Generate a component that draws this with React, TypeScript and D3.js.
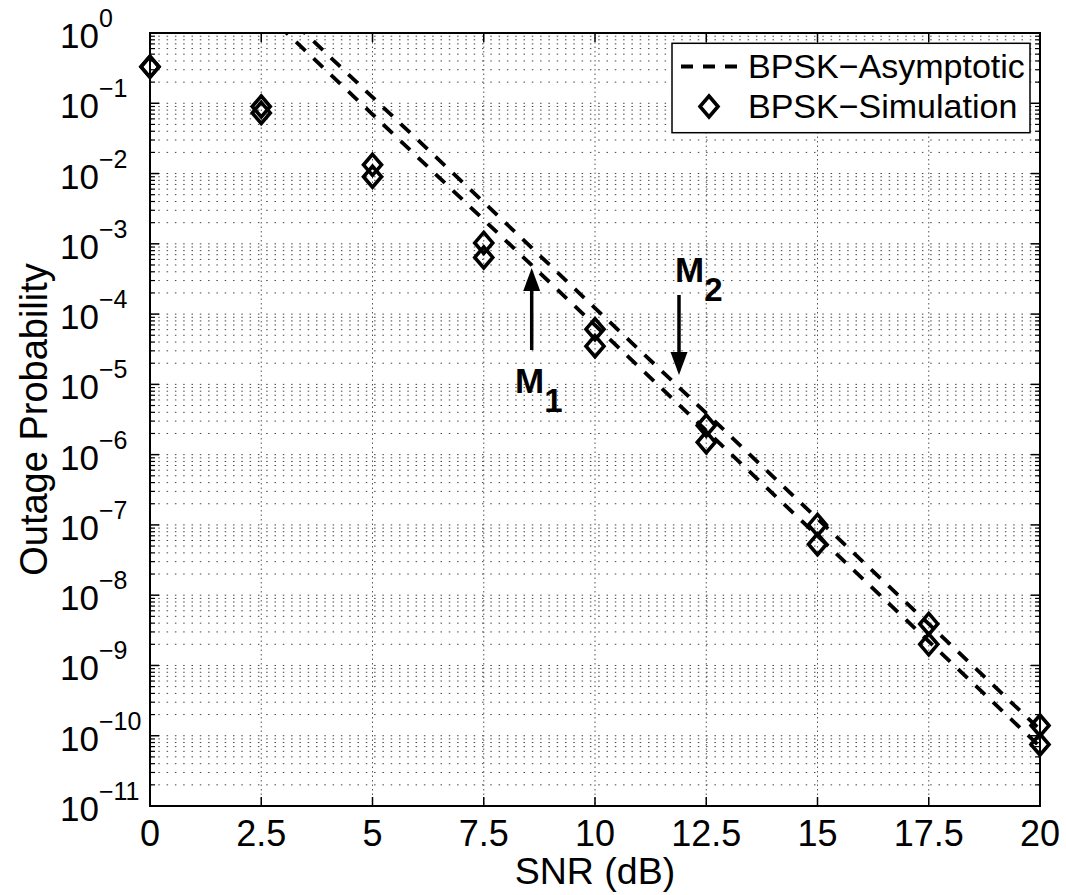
import React from "react";
import * as d3 from "d3";

const snrTicks = [0, 2.5, 5, 7.5, 10, 12.5, 15, 17.5, 20];
const tickLabels = ["0", "2.5", "5", "7.5", "10", "12.5", "15", "17.5", "20"];
const yExponents = [0, -1, -2, -3, -4, -5, -6, -7, -8, -9, -10, -11];

// Asymptotic curves at SNR points
const asymSnr = [2.5, 5, 7.5, 10, 12.5, 15, 17.5, 20];
const asymUpper = [3.87, 0.122, 3.9e-3, 1.22e-4, 3.9e-6, 1.22e-7, 3.9e-9, 1.22e-10];
const asymLower = [2.2, 0.0695, 2.2e-3, 6.95e-5, 2.2e-6, 7.0e-8, 2.2e-9, 7.0e-11];

// Simulation points
const simSnr = [0, 2.5, 5, 7.5, 10, 12.5, 15, 17.5, 20];
const simUpper = [0.33, 0.09, 0.0133, 1.03e-3, 6.1e-5, 2.6e-6, 1.0e-7, 3.9e-9, 1.4e-10];
const simLower = [0.33, 0.073, 0.009, 6.4e-4, 3.5e-5, 1.5e-6, 5.3e-8, 2.0e-9, 7.5e-11];

const legendLabels = ["BPSK\u2212Asymptotic", "BPSK\u2212Simulation"];

const W = 1066, H = 895;
const L = 150, R = 1040, T = 33, B = 806;
const FONT = "'Liberation Sans', Arial, Helvetica, sans-serif";

export default function App() {
  const x = d3.scaleLinear().domain([0, 20]).range([L, R]);
  const y = d3.scaleLog().domain([1e-11, 1]).range([B, T]);

  const minorY: number[] = [];
  for (let e = -11; e < 0; e++) {
    for (let m = 2; m <= 9; m++) minorY.push(m * Math.pow(10, e));
  }

  const line = d3
    .line<number>()
    .x((_, i) => x(asymSnr[i]))
    .y((d) => y(d));

  const diamond = (cx: number, cy: number, key: string) => (
    <path
      key={key}
      d={`M${cx},${cy - 10.5}L${cx + 9},${cy}L${cx},${cy + 10.5}L${cx - 9},${cy}Z`}
      fill="none"
      stroke="#000"
      strokeWidth={3.6}
      strokeLinejoin="miter"
    />
  );

  const arrow = (xv: number, y0: number, y1: number, key: string) => {
    const dir = y1 < y0 ? -1 : 1;
    const headLen = 23;
    const headHalf = 8.5;
    const baseY = y1 - dir * headLen;
    return (
      <g key={key}>
        <line x1={xv} y1={y0} x2={xv} y2={baseY} stroke="#000" strokeWidth={3.5} />
        <path d={`M${xv},${y1}L${xv - headHalf},${baseY}L${xv + headHalf},${baseY}Z`} fill="#000" />
      </g>
    );
  };

  return (
    <svg width={W} height={H} style={{ position: "absolute", left: 0, top: 0, background: "#fff" }}>
      <rect x={0} y={0} width={W} height={H} fill="#fff" />
      <defs>
        <clipPath id="plotclip">
          <rect x={L} y={T} width={R - L} height={B - T} />
        </clipPath>
      </defs>

      {minorY.map((v, i) => (
        <line key={"mg" + i} x1={L} x2={R} y1={y(v)} y2={y(v)} stroke="#444" strokeWidth={1} strokeDasharray="1.5,6.8" />
      ))}
      {yExponents.map((e) => (
        <line key={"Mg" + e} x1={L} x2={R} y1={y(Math.pow(10, e))} y2={y(Math.pow(10, e))} stroke="#444" strokeWidth={1} strokeDasharray="1.5,6.8" />
      ))}
      {snrTicks.map((t) => (
        <line key={"vg" + t} x1={x(t)} x2={x(t)} y1={T} y2={B} stroke="#555" strokeWidth={1} strokeDasharray="1.5,3" />
      ))}

      <g clipPath="url(#plotclip)">
        <path d={line(asymUpper) || ""} fill="none" stroke="#000" strokeWidth={3.8} strokeDasharray="13,11" />
        <path d={line(asymLower) || ""} fill="none" stroke="#000" strokeWidth={3.8} strokeDasharray="13,11" />
      </g>

      {simSnr.map((s, i) => diamond(x(s), y(simUpper[i]), "du" + i))}
      {simSnr.map((s, i) => diamond(x(s), y(simLower[i]), "dl" + i))}

      <rect x={L} y={T} width={R - L} height={B - T} fill="none" stroke="#000" strokeWidth={2} />

      {yExponents.map((e) => {
        const yy = y(Math.pow(10, e));
        return (
          <g key={"yt" + e}>
            <line x1={L} x2={L + 9} y1={yy} y2={yy} stroke="#000" strokeWidth={1.5} />
            <line x1={R} x2={R - 9} y1={yy} y2={yy} stroke="#000" strokeWidth={1.5} />
            <text x={60} y={yy + 15} fontFamily={FONT} fontSize={35} fill="#000">
              10
              <tspan dy={-21} fontSize={25}>{e === 0 ? "0" : "\u2212" + Math.abs(e)}</tspan>
            </text>
          </g>
        );
      })}
      {minorY.map((v, i) => (
        <g key={"ymt" + i}>
          <line x1={L} x2={L + 5} y1={y(v)} y2={y(v)} stroke="#000" strokeWidth={1.2} />
          <line x1={R} x2={R - 5} y1={y(v)} y2={y(v)} stroke="#000" strokeWidth={1.2} />
        </g>
      ))}

      {snrTicks.map((t, i) => (
        <g key={"xt" + t}>
          <line x1={x(t)} x2={x(t)} y1={B} y2={B - 9} stroke="#000" strokeWidth={1.5} />
          <line x1={x(t)} x2={x(t)} y1={T} y2={T + 9} stroke="#000" strokeWidth={1.5} />
          <text x={x(t)} y={846} textAnchor="middle" fontFamily={FONT} fontSize={36} fill="#000">
            {tickLabels[i]}
          </text>
        </g>
      ))}

      <text x={595} y={884} textAnchor="middle" fontFamily={FONT} fontSize={37.5} fill="#000">
        SNR (dB)
      </text>
      <text transform={`translate(47,${(T + B) / 2}) rotate(-90)`} textAnchor="middle" fontFamily={FONT} fontSize={38} fill="#000">
        Outage Probability
      </text>

      {arrow(531.7, 350, 268, "a1")}
      {arrow(679, 295, 375, "a2")}
      <text x={515} y={393} fontFamily={FONT} fontSize={35} fontWeight="bold" fill="#000">
        M<tspan dy={19} fontSize={33}>1</tspan>
      </text>
      <text x={675} y={282} fontFamily={FONT} fontSize={35} fontWeight="bold" fill="#000">
        M<tspan dy={19} fontSize={33}>2</tspan>
      </text>

      <rect x={672} y={43.3} width={1030 - 672} height={89.4} fill="#fff" stroke="#000" strokeWidth={1.5} />
      <line x1={681} x2={737} y1={66.5} y2={66.5} stroke="#000" strokeWidth={3.8} strokeDasharray="12,10" />
      {diamond(709, 106.5, "legd")}
      <text x={748} y={78.3} fontFamily={FONT} fontSize={34} fill="#000">{legendLabels[0]}</text>
      <text x={748} y={118.3} fontFamily={FONT} fontSize={34} fill="#000">{legendLabels[1]}</text>
    </svg>
  );
}
